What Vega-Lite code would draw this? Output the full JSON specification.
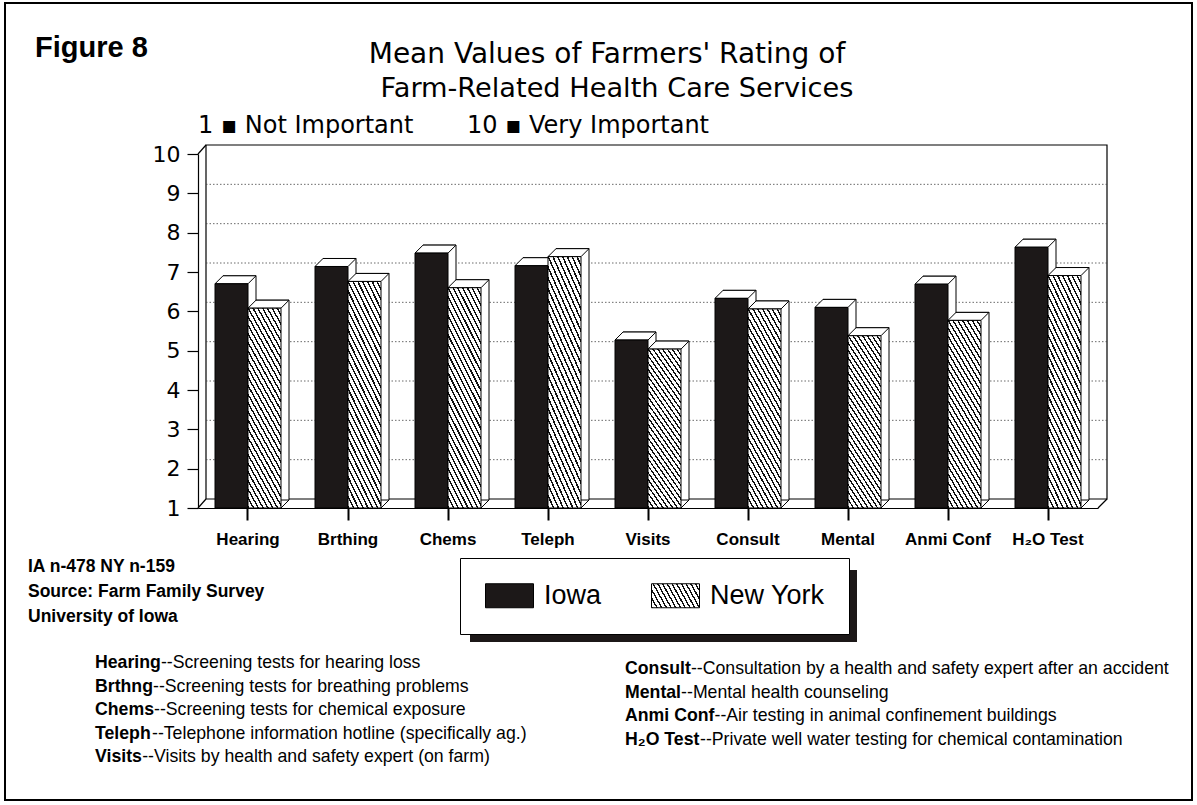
{
"$schema": "https://vega.github.io/schema/vega-lite/v6.json",
"width": 900,
"height": 354,
"autosize": {"type": "none"},
"padding": {"left": 198, "top": 154, "right": 99, "bottom": 297},
"background": "white",
"config": {
"view": {"stroke": null},
"axisY": {"orient": "left", "grid": false, "tickSize": 11, "labelPadding": 7, "labelFont": "DejaVu Sans", "labelFontSize": 22, "labelColor": "black", "domainColor": "black", "domainWidth": 1.2, "tickColor": "black", "tickWidth": 1.2}
},
"datasets": {
"ratings": [
{"service":"Hearing","state":"Iowa","rating":6.70},{"service":"Hearing","state":"New York","rating":6.08},
{"service":"Brthing","state":"Iowa","rating":7.14},{"service":"Brthing","state":"New York","rating":6.76},
{"service":"Chems","state":"Iowa","rating":7.48},{"service":"Chems","state":"New York","rating":6.60},
{"service":"Teleph","state":"Iowa","rating":7.16},{"service":"Teleph","state":"New York","rating":7.39},
{"service":"Visits","state":"Iowa","rating":5.27},{"service":"Visits","state":"New York","rating":5.04},
{"service":"Consult","state":"Iowa","rating":6.33},{"service":"Consult","state":"New York","rating":6.06},
{"service":"Mental","state":"Iowa","rating":6.10},{"service":"Mental","state":"New York","rating":5.38},
{"service":"Anmi Conf","state":"Iowa","rating":6.69},{"service":"Anmi Conf","state":"New York","rating":5.77},
{"service":"H₂O Test","state":"Iowa","rating":7.63},{"service":"H₂O Test","state":"New York","rating":6.91}
],
"gridlines": [{"level":2},{"level":3},{"level":4},{"level":5},{"level":6},{"level":7},{"level":8},{"level":9}],
"definitions": [
{"term":"Hearing","definition":"--Screening tests for hearing loss","column":1,"line":0},
{"term":"Brthng","definition":"--Screening tests for breathing problems","column":1,"line":1},
{"term":"Chems","definition":"--Screening tests for chemical exposure","column":1,"line":2},
{"term":"Teleph","definition":"--Telephone information hotline (specifically ag.)","column":1,"line":3},
{"term":"Visits","definition":"--Visits by health and safety expert (on farm)","column":1,"line":4},
{"term":"Consult","definition":"--Consultation by a health and safety expert after an accident","column":2,"line":0},
{"term":"Mental","definition":"--Mental health counseling","column":2,"line":1},
{"term":"Anmi Conf","definition":"--Air testing in animal confinement buildings","column":2,"line":2},
{"term":"H₂O Test","definition":"--Private well water testing for chemical contamination","column":2,"line":3}
]
},
"layer": [
{
"data": {"values": [{}]},
"mark": {"type": "rect", "fill": null, "stroke": "black", "strokeWidth": 2},
"encoding": {"x": {"value": -193}, "x2": {"value": 994}, "y": {"value": -151}, "y2": {"value": 646}}
},
{
"data": {"values": [{}]},
"mark": {"type": "rect", "fill": "white", "stroke": "black", "strokeWidth": 1.2, "yOffset": -9, "y2Offset": -9},
"encoding": {"x": {"value": 8}, "x2": {"value": 909}, "y": {"datum": 10, "type": "quantitative", "title": null, "axis": {"title": null, "values": [1,2,3,4,5,6,7,8,9,10]}}, "y2": {"datum": 1}}
},
{
"data": {"name": "gridlines"},
"mark": {"type": "rule", "stroke": "#444", "strokeWidth": 0.8, "strokeDash": [1.5, 2], "yOffset": -9},
"encoding": {"x": {"value": 8}, "x2": {"value": 909}, "y": {"field": "level", "type": "quantitative", "title": null, "axis": {"title": null, "values": [1,2,3,4,5,6,7,8,9,10]}}}
},
{
"data": {"values": [{}]},
"mark": {"type": "rule", "stroke": "black", "strokeWidth": 1.2, "y2Offset": -9},
"encoding": {"x": {"value": 0}, "x2": {"value": 8}, "y": {"datum": 10, "type": "quantitative", "title": null, "axis": {"title": null, "values": [1,2,3,4,5,6,7,8,9,10]}}, "y2": {"datum": 10}}
},
{
"data": {"values": [{}]},
"mark": {"type": "rule", "stroke": "black", "strokeWidth": 1.2, "y2Offset": -9},
"encoding": {"x": {"value": 0}, "x2": {"value": 8}, "y": {"datum": 1, "type": "quantitative", "title": null, "axis": {"title": null, "values": [1,2,3,4,5,6,7,8,9,10]}}, "y2": {"datum": 1}}
},
{
"data": {"values": [{}]},
"mark": {"type": "rule", "stroke": "black", "strokeWidth": 1.2, "y2Offset": -9},
"encoding": {"x": {"value": 900}, "x2": {"value": 909}, "y": {"datum": 1, "type": "quantitative", "title": null, "axis": {"title": null, "values": [1,2,3,4,5,6,7,8,9,10]}}, "y2": {"datum": 1}}
},
{
"data": {"name": "ratings"},
"encoding": {
"x": {"field": "service", "type": "nominal", "title": null,
"scale": {"domain": ["Hearing","Brthing","Chems","Teleph","Visits","Consult","Mental","Anmi Conf","H₂O Test"], "paddingInner": 0.34, "paddingOuter": 0.17},
"axis": {"title": null, "labelAngle": 0, "ticks": true, "tickSize": 12, "labelPadding": 24, "labelBaseline": "alphabetic", "labelFont": "Liberation Sans", "labelFontWeight": "bold", "labelFontSize": 17, "labelColor": "black", "domainColor": "black", "domainWidth": 1.2, "tickColor": "black", "tickWidth": 2, "zindex": 1}},
"y": {"field": "rating", "type": "quantitative", "title": null,
"scale": {"domain": [1, 10], "nice": false, "zero": false},
"axis": {"title": null, "values": [1,2,3,4,5,6,7,8,9,10], "orient": "left", "grid": false, "tickSize": 11, "labelPadding": 7, "labelFont": "DejaVu Sans", "labelFontSize": 22, "labelColor": "black", "domainColor": "black", "domainWidth": 1.2, "tickColor": "black", "tickWidth": 1.2}}
},
"layer": [
{
"transform": [{"filter": "datum.state === 'Iowa'"}],
"mark": {"type": "bar", "width": 33, "xOffset": -8.5, "yOffset": -8, "y2Offset": -8, "fill": "white", "stroke": "black", "strokeWidth": 1, "opacity": 1},
"encoding": {"y2": {"datum": 1}}
},
{
"transform": [{"filter": "datum.state === 'Iowa'"}],
"mark": {"type": "point", "shape": "M0,0H33L41,-8H8Z", "size": 4, "filled": true, "fill": "white", "stroke": "black", "strokeWidth": 1, "opacity": 1, "xOffset": -33}
},
{
"transform": [{"filter": "datum.state === 'Iowa'"}],
"mark": {"type": "bar", "width": 33, "xOffset": -16.5, "stroke": "black", "strokeWidth": 1, "opacity": 1},
"encoding": {
"y2": {"datum": 1},
"fill": {"datum": "Iowa", "type": "nominal",
"scale": {"domain": ["Iowa", "New York"], "range": ["#1c1818", {"expr": "{gradient:'linear',x1:0,y1:1,x2:1.186,y2:0.6705,stops:[{offset:0,color:'#111'},{offset:0.026,color:'#111'},{offset:0.026,color:'#fff'},{offset:0.0769,color:'#fff'},{offset:0.0769,color:'#111'},{offset:0.1029,color:'#111'},{offset:0.1029,color:'#fff'},{offset:0.1538,color:'#fff'},{offset:0.1538,color:'#111'},{offset:0.1798,color:'#111'},{offset:0.1798,color:'#fff'},{offset:0.2308,color:'#fff'},{offset:0.2308,color:'#111'},{offset:0.2568,color:'#111'},{offset:0.2568,color:'#fff'},{offset:0.3077,color:'#fff'},{offset:0.3077,color:'#111'},{offset:0.3337,color:'#111'},{offset:0.3337,color:'#fff'},{offset:0.3846,color:'#fff'},{offset:0.3846,color:'#111'},{offset:0.4106,color:'#111'},{offset:0.4106,color:'#fff'},{offset:0.4615,color:'#fff'},{offset:0.4615,color:'#111'},{offset:0.4875,color:'#111'},{offset:0.4875,color:'#fff'},{offset:0.5385,color:'#fff'},{offset:0.5385,color:'#111'},{offset:0.5645,color:'#111'},{offset:0.5645,color:'#fff'},{offset:0.6154,color:'#fff'},{offset:0.6154,color:'#111'},{offset:0.6414,color:'#111'},{offset:0.6414,color:'#fff'},{offset:0.6923,color:'#fff'},{offset:0.6923,color:'#111'},{offset:0.7183,color:'#111'},{offset:0.7183,color:'#fff'},{offset:0.7692,color:'#fff'},{offset:0.7692,color:'#111'},{offset:0.7952,color:'#111'},{offset:0.7952,color:'#fff'},{offset:0.8462,color:'#fff'},{offset:0.8462,color:'#111'},{offset:0.8722,color:'#111'},{offset:0.8722,color:'#fff'},{offset:0.9231,color:'#fff'},{offset:0.9231,color:'#111'},{offset:0.9491,color:'#111'},{offset:0.9491,color:'#fff'},{offset:1,color:'#fff'}]}"}]},
"legend": {"title": null, "orient": "none", "legendX": 262, "legendY": 404, "direction": "horizontal",
"symbolType": "M-1,-1H3V1H-1Z", "symbolSize": 576, "symbolStrokeColor": "black", "symbolStrokeWidth": 1, "symbolOpacity": 1,
"labelFont": "Liberation Sans", "labelFontSize": 27, "labelColor": "black", "labelOffset": 33, "labelLimit": 300,
"columnPadding": 47, "padding": 24, "strokeColor": "black", "fillColor": "white"}
}
}
},
{
"transform": [{"filter": "datum.state === 'New York'"}],
"mark": {"type": "bar", "width": 33, "xOffset": 24.5, "yOffset": -8, "y2Offset": -8, "fill": "white", "stroke": "black", "strokeWidth": 1, "opacity": 1},
"encoding": {"y2": {"datum": 1}}
},
{
"transform": [{"filter": "datum.state === 'New York'"}],
"mark": {"type": "point", "shape": "M0,0H33L41,-8H8Z", "size": 4, "filled": true, "fill": "white", "stroke": "black", "strokeWidth": 1, "opacity": 1, "xOffset": 0}
},
{
"transform": [{"filter": "datum.state === 'New York'"}],
"mark": {"type": "point", "shape": "M0,0L8,-8", "size": 4, "filled": false, "stroke": "black", "strokeWidth": 1, "opacity": 1, "xOffset": 33},
"encoding": {"y": {"datum": 1, "type": "quantitative", "title": null, "axis": {"title": null, "values": [1,2,3,4,5,6,7,8,9,10]}}}
},
{
"transform": [{"filter": "datum.state === 'New York'"}],
"mark": {"type": "bar", "width": 33, "xOffset": 16.5, "stroke": "black", "strokeWidth": 1, "opacity": 1,
"fill": {"gradient": "linear", "x1": 0, "y1": 1, "x2": 0.354, "y2": -0.192, "stops": [
{"offset":0,"color":"#111"},{"offset":0.011,"color":"#111"},{"offset":0.011,"color":"#fff"},{"offset":0.0333,"color":"#fff"},
{"offset":0.0333,"color":"#111"},{"offset":0.0443,"color":"#111"},{"offset":0.0443,"color":"#fff"},{"offset":0.0667,"color":"#fff"},
{"offset":0.0667,"color":"#111"},{"offset":0.0777,"color":"#111"},{"offset":0.0777,"color":"#fff"},{"offset":0.1,"color":"#fff"},
{"offset":0.1,"color":"#111"},{"offset":0.111,"color":"#111"},{"offset":0.111,"color":"#fff"},{"offset":0.1333,"color":"#fff"},
{"offset":0.1333,"color":"#111"},{"offset":0.1443,"color":"#111"},{"offset":0.1443,"color":"#fff"},{"offset":0.1667,"color":"#fff"},
{"offset":0.1667,"color":"#111"},{"offset":0.1777,"color":"#111"},{"offset":0.1777,"color":"#fff"},{"offset":0.2,"color":"#fff"},
{"offset":0.2,"color":"#111"},{"offset":0.211,"color":"#111"},{"offset":0.211,"color":"#fff"},{"offset":0.2333,"color":"#fff"},
{"offset":0.2333,"color":"#111"},{"offset":0.2443,"color":"#111"},{"offset":0.2443,"color":"#fff"},{"offset":0.2667,"color":"#fff"},
{"offset":0.2667,"color":"#111"},{"offset":0.2777,"color":"#111"},{"offset":0.2777,"color":"#fff"},{"offset":0.3,"color":"#fff"},
{"offset":0.3,"color":"#111"},{"offset":0.311,"color":"#111"},{"offset":0.311,"color":"#fff"},{"offset":0.3333,"color":"#fff"},
{"offset":0.3333,"color":"#111"},{"offset":0.3443,"color":"#111"},{"offset":0.3443,"color":"#fff"},{"offset":0.3667,"color":"#fff"},
{"offset":0.3667,"color":"#111"},{"offset":0.3777,"color":"#111"},{"offset":0.3777,"color":"#fff"},{"offset":0.4,"color":"#fff"},
{"offset":0.4,"color":"#111"},{"offset":0.411,"color":"#111"},{"offset":0.411,"color":"#fff"},{"offset":0.4333,"color":"#fff"},
{"offset":0.4333,"color":"#111"},{"offset":0.4443,"color":"#111"},{"offset":0.4443,"color":"#fff"},{"offset":0.4667,"color":"#fff"},
{"offset":0.4667,"color":"#111"},{"offset":0.4777,"color":"#111"},{"offset":0.4777,"color":"#fff"},{"offset":0.5,"color":"#fff"},
{"offset":0.5,"color":"#111"},{"offset":0.511,"color":"#111"},{"offset":0.511,"color":"#fff"},{"offset":0.5333,"color":"#fff"},
{"offset":0.5333,"color":"#111"},{"offset":0.5443,"color":"#111"},{"offset":0.5443,"color":"#fff"},{"offset":0.5667,"color":"#fff"},
{"offset":0.5667,"color":"#111"},{"offset":0.5777,"color":"#111"},{"offset":0.5777,"color":"#fff"},{"offset":0.6,"color":"#fff"},
{"offset":0.6,"color":"#111"},{"offset":0.611,"color":"#111"},{"offset":0.611,"color":"#fff"},{"offset":0.6333,"color":"#fff"},
{"offset":0.6333,"color":"#111"},{"offset":0.6443,"color":"#111"},{"offset":0.6443,"color":"#fff"},{"offset":0.6667,"color":"#fff"},
{"offset":0.6667,"color":"#111"},{"offset":0.6777,"color":"#111"},{"offset":0.6777,"color":"#fff"},{"offset":0.7,"color":"#fff"},
{"offset":0.7,"color":"#111"},{"offset":0.711,"color":"#111"},{"offset":0.711,"color":"#fff"},{"offset":0.7333,"color":"#fff"},
{"offset":0.7333,"color":"#111"},{"offset":0.7443,"color":"#111"},{"offset":0.7443,"color":"#fff"},{"offset":0.7667,"color":"#fff"},
{"offset":0.7667,"color":"#111"},{"offset":0.7777,"color":"#111"},{"offset":0.7777,"color":"#fff"},{"offset":0.8,"color":"#fff"},
{"offset":0.8,"color":"#111"},{"offset":0.811,"color":"#111"},{"offset":0.811,"color":"#fff"},{"offset":0.8333,"color":"#fff"},
{"offset":0.8333,"color":"#111"},{"offset":0.8443,"color":"#111"},{"offset":0.8443,"color":"#fff"},{"offset":0.8667,"color":"#fff"},
{"offset":0.8667,"color":"#111"},{"offset":0.8777,"color":"#111"},{"offset":0.8777,"color":"#fff"},{"offset":0.9,"color":"#fff"},
{"offset":0.9,"color":"#111"},{"offset":0.911,"color":"#111"},{"offset":0.911,"color":"#fff"},{"offset":0.9333,"color":"#fff"},
{"offset":0.9333,"color":"#111"},{"offset":0.9443,"color":"#111"},{"offset":0.9443,"color":"#fff"},{"offset":0.9667,"color":"#fff"},
{"offset":0.9667,"color":"#111"},{"offset":0.9777,"color":"#111"},{"offset":0.9777,"color":"#fff"},{"offset":1,"color":"#fff"}
]}},
"encoding": {"y2": {"datum": 1}}
}
]
},
{
"data": {"values": [{}]},
"mark": {"type": "rect", "fill": "#1c1818", "opacity": 1},
"encoding": {"x": {"value": 272}, "x2": {"value": 659}, "y": {"value": 416}, "y2": {"value": 488}}
},
{
"data": {"values": [{}]},
"mark": {"type": "text", "text": "Figure 8", "x": -163, "y": -97, "align": "left", "baseline": "alphabetic", "font": "Liberation Sans", "fontWeight": "bold", "fontSize": 29, "fill": "black"}
},
{
"data": {"values": [{}]},
"mark": {"type": "text", "text": "Mean Values of Farmers' Rating of", "x": 409, "y": -91, "align": "center", "baseline": "alphabetic", "font": "DejaVu Sans", "fontSize": 28, "fill": "black"}
},
{
"data": {"values": [{}]},
"mark": {"type": "text", "text": "Farm-Related Health Care Services", "x": 419, "y": -57, "align": "center", "baseline": "alphabetic", "font": "DejaVu Sans", "fontSize": 27.2, "fill": "black"}
},
{
"data": {"values": [{}]},
"mark": {"type": "text", "text": "1 ▪ Not Important", "x": 0, "y": -21, "align": "left", "baseline": "alphabetic", "font": "DejaVu Sans", "fontSize": 24, "fill": "black"}
},
{
"data": {"values": [{}]},
"mark": {"type": "text", "text": "10 ▪ Very Important", "x": 390, "y": -21, "align": "center", "baseline": "alphabetic", "font": "DejaVu Sans", "fontSize": 24, "fill": "black"}
},
{
"data": {"values": [{}]},
"mark": {"type": "text", "text": ["IA n-478 NY n-159", "Source: Farm Family Survey", "University of Iowa"], "x": -170, "y": 418, "lineHeight": 25, "align": "left", "baseline": "alphabetic", "font": "Liberation Sans", "fontWeight": "bold", "fontSize": 17.5, "fill": "black"}
},
{
"data": {"name": "definitions"},
"mark": {"type": "text", "align": "left", "baseline": "alphabetic", "font": "Liberation Sans", "fontWeight": "bold", "fontSize": 17.7, "fill": "black",
"x": {"expr": "datum.column === 1 ? -103 : 427"},
"y": {"expr": "(datum.column === 1 ? 514 : 520) + 23.5 * datum.line"}},
"encoding": {"text": {"field": "term", "type": "nominal"}}
},
{
"data": {"name": "definitions"},
"mark": {"type": "text", "align": "left", "baseline": "alphabetic", "font": "Liberation Sans", "fontSize": 17.7, "fill": "black",
"x": {"expr": "datum.column === 1 ? -103 : 427"},
"y": {"expr": "(datum.column === 1 ? 514 : 520) + 23.5 * datum.line"},
"dx": {"expr": "({'Hearing': 65.9, 'Brthng': 58, 'Chems': 59, 'Teleph': 57, 'Visits': 47.2, 'Consult': 65.9, 'Mental': 56.1, 'Anmi Conf': 89.5, 'H₂O Test': 75})[datum.term]"}},
"encoding": {"text": {"field": "definition", "type": "nominal"}}
}
]
}
